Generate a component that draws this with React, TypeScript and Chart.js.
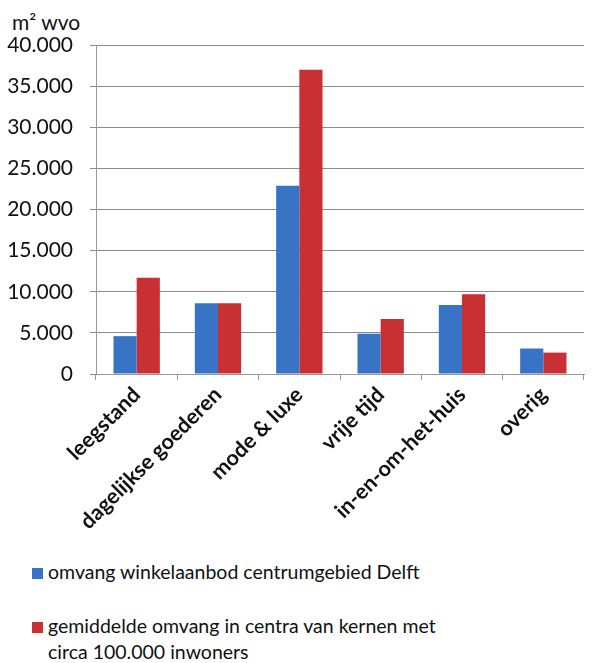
import React, { useEffect, useRef } from "react";
import { Chart, registerables } from "chart.js";

Chart.register(...registerables);

const categories = ["leegstand", "dagelijkse goederen", "mode & luxe", "vrije tijd", "in-en-om-het-huis", "overig"];
const delftValues = [4600, 8600, 22900, 4900, 8400, 3100];
const averageValues = [11700, 8600, 37000, 6700, 9700, 2600];
const seriesNames = [
  "omvang winkelaanbod centrumgebied Delft",
  "gemiddelde omvang in centra van kernen met circa 100.000 inwoners",
];
const yTitle = "m² wvo";
const blue = "#3873c6";
const red = "#c83034";

export default function App() {
  const ref = useRef<HTMLCanvasElement | null>(null);
  useEffect(() => {
    if (!ref.current) return;
    const chart = new Chart(ref.current, {
      type: "bar",
      data: {
        labels: categories,
        datasets: [
          { label: seriesNames[0], data: delftValues, backgroundColor: blue, categoryPercentage: 0.57, barPercentage: 1 },
          { label: seriesNames[1], data: averageValues, backgroundColor: red, categoryPercentage: 0.57, barPercentage: 1 },
        ],
      },
      options: {
        animation: false,
        responsive: false,
        layout: { padding: { left: 0, top: 45, right: 11, bottom: 0 } },
        plugins: { legend: { display: false }, tooltip: { enabled: false } },
        scales: {
          x: {
            afterFit: (s: any) => { s.height = 171; },
            grid: { display: true, drawOnChartArea: false, tickLength: 6, color: "#999" },
            border: { color: "#999" },
            ticks: {
              minRotation: 45, maxRotation: 45, padding: 2, color: "#111",
              font: { family: "Lato", size: 21.5, weight: "bold" },
            },
          },
          y: {
            min: 0, max: 40000,
            afterFit: (s: any) => { s.width = 96; },
            grid: { color: "#8c8c8c", tickLength: 6 },
            border: { color: "#999" },
            ticks: {
              stepSize: 5000, padding: 17, color: "#111",
              font: { family: "Lato", size: 21 },
              callback: (v: any) => Number(v).toLocaleString("nl-NL", { minimumFractionDigits: 0 }).replace(",", "."),
            },
          },
        },
      },
    });
    return () => chart.destroy();
  }, []);

  const sq = (c: string) => ({ display: "inline-block", width: 11, height: 11, background: c, marginRight: 5, textIndent: 0 });

  return (
    <div style={{ position: "absolute", left: 0, top: 0, width: 595, height: 663, background: "#fff", fontFamily: "Lato", color: "#111" }}>
      <div style={{ position: "absolute", left: 12, top: 9, fontSize: 21 }}>{yTitle}</div>
      <canvas ref={ref} width={595} height={545} style={{ position: "absolute", left: 0, top: 0 }} />
      <div style={{ position: "absolute", left: 32, top: 559, fontSize: 19.5, lineHeight: "26px" }}>
        <div><span style={sq(blue)} />{seriesNames[0]}</div>
        <div style={{ marginTop: 28, width: 424, paddingLeft: 16, textIndent: -16 }}><span style={sq(red)} />{seriesNames[1]}</div>
      </div>
    </div>
  );
}
